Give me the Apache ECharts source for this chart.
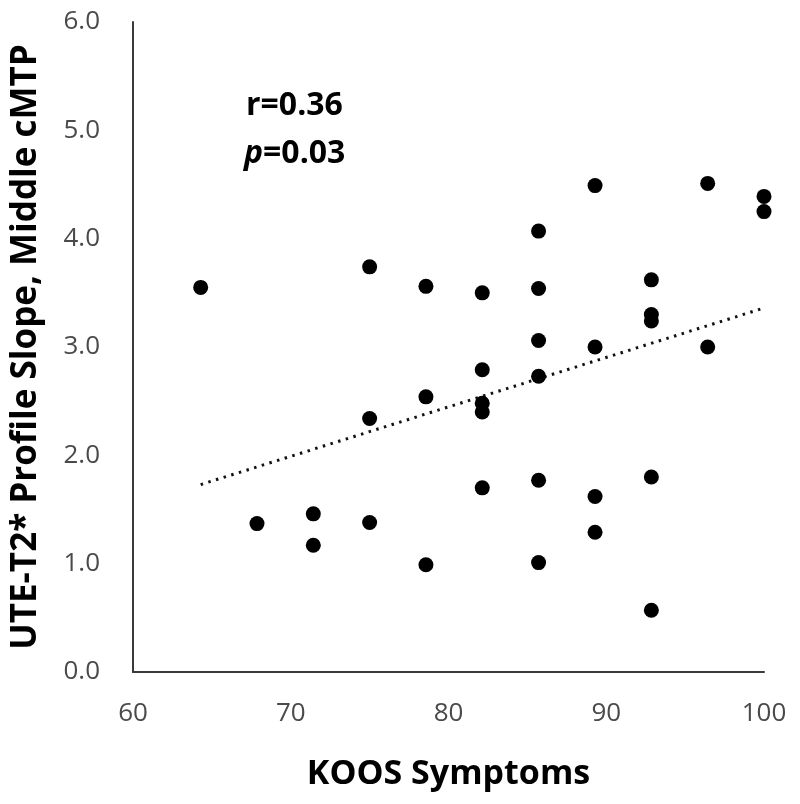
<!DOCTYPE html>
<html>
<head>
<meta charset="utf-8">
<script src="https://cdn.jsdelivr.net/npm/echarts@6/dist/echarts.min.js"></script>
<style>
html,body{margin:0;padding:0;background:#fff;}
#chart{width:800px;height:804px;}
</style>
</head>
<body>
<div id="chart"></div>
<script>
// KOOS Symptoms (x) values
const koos = [
  64.29,
  67.86,
  71.43, 71.43,
  75.00, 75.00, 75.00,
  78.57, 78.57, 78.57,
  82.14, 82.14, 82.14, 82.14, 82.14,
  85.71, 85.71, 85.71, 85.71, 85.71, 85.71,
  89.29, 89.29, 89.29, 89.29,
  92.86, 92.86, 92.86, 92.86, 92.86,
  96.43, 96.43,
  100.0, 100.0
];
// UTE-T2* profile slope, middle cMTP (y) values
const slope = [
  3.55,
  1.37,
  1.46, 1.17,
  3.74, 2.34, 1.38,
  3.56, 2.54, 0.99,
  3.50, 2.79, 2.48, 2.40, 1.70,
  4.07, 3.54, 3.06, 2.73, 1.77, 1.01,
  4.49, 3.00, 1.62, 1.29,
  3.62, 3.30, 3.24, 1.80, 0.57,
  4.51, 3.00,
  4.39, 4.25
];
// Linear trend line endpoints
const trendX = [64.29, 100.0];
const trendY = [1.73, 3.36];
const xTicks = [60, 70, 80, 90, 100];
const yTicks = [0, 1, 2, 3, 4, 5, 6];
const statR = "0.36";
const statP = "0.03";

const points = koos.map((x, i) => [x, slope[i]]);
const trend = trendX.map((x, i) => [x, trendY[i]]);

const font = "'Open Sans', sans-serif";
const chart = echarts.init(document.getElementById('chart'), null, {renderer: 'canvas'});
chart.setOption({
  animation: false,
  backgroundColor: '#ffffff',
  grid: {left: 133, right: 36, top: 22, bottom: 132, containLabel: false},
  xAxis: {
    type: 'value',
    min: xTicks[0], max: xTicks[xTicks.length - 1], interval: 10,
    name: 'KOOS Symptoms',
    nameLocation: 'middle',
    nameGap: 85,
    nameTextStyle: {fontFamily: font, fontWeight: 'bold', fontSize: 34, color: '#000'},
    axisLine: {show: true, onZero: false, lineStyle: {color: '#3a3a3a', width: 2}},
    axisTick: {show: false},
    splitLine: {show: false},
    axisLabel: {fontFamily: font, fontSize: 26, color: '#4a4a4a', margin: 29}
  },
  yAxis: {
    type: 'value',
    min: yTicks[0], max: yTicks[yTicks.length - 1], interval: 1,
    name: 'UTE-T2* Profile Slope, Middle cMTP',
    nameLocation: 'middle',
    nameGap: 89,
    nameTextStyle: {fontFamily: font, fontWeight: 'bold', fontSize: 35, color: '#000'},
    axisLine: {show: true, onZero: false, lineStyle: {color: '#3a3a3a', width: 2}},
    axisTick: {show: false},
    splitLine: {show: false},
    axisLabel: {fontFamily: font, fontSize: 26, color: '#4a4a4a', margin: 33,
      formatter: v => v.toFixed(1)}
  },
  series: [
    {
      type: 'line',
      data: trend,
      symbol: 'none',
      lineStyle: {color: '#111', width: 3, type: [2.5, 5.5]},
      z: 1
    },
    {
      type: 'scatter',
      data: points,
      symbol: 'circle',
      symbolSize: 15,
      itemStyle: {color: '#000', opacity: 1},
      z: 2
    }
  ],
  graphic: [
    {
      type: 'text', left: 246, top: 90,
      style: {text: 'r=' + statR, fontFamily: font, fontWeight: 'bold', fontSize: 32, fill: '#000'}
    },
    {
      type: 'text', left: 244, top: 138,
      style: {
        text: '{i|p}{n|=' + statP + '}',
        rich: {
          i: {fontFamily: font, fontWeight: 'bold', fontStyle: 'italic', fontSize: 32, fill: '#000'},
          n: {fontFamily: font, fontWeight: 'bold', fontSize: 32, fill: '#000'}
        }
      }
    }
  ]
});
</script>
</body>
</html>
